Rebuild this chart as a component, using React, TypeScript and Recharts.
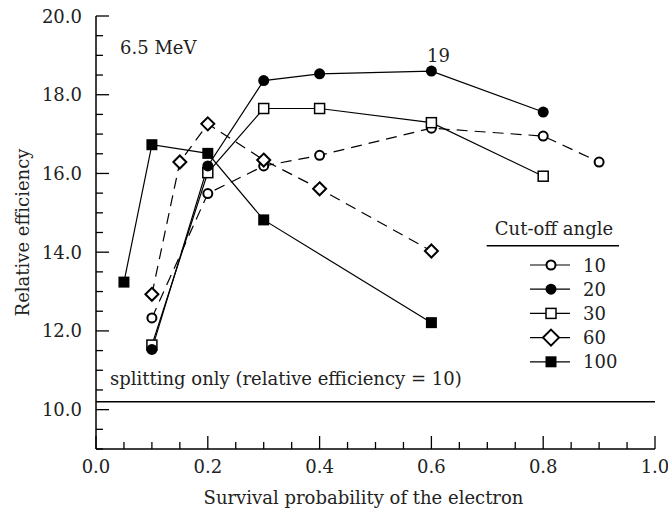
import React from 'react';
import { LineChart, Line, XAxis, YAxis, ReferenceLine, ReferenceDot, Legend, Label } from 'recharts';

const FONT = '"DejaVu Serif", "Liberation Serif", serif';
const FS = 18;
const TXT: React.CSSProperties = { fontFamily: FONT, fontSize: FS };

// Survival probability (x) and relative efficiency (y) per cut-off angle
const x10 = [0.1, 0.2, 0.3, 0.4, 0.6, 0.8, 0.9];
const y10 = [12.33, 15.49, 16.19, 16.46, 17.15, 16.95, 16.29];
const x20 = [0.1, 0.2, 0.3, 0.4, 0.6, 0.8];
const y20 = [11.53, 16.19, 18.36, 18.53, 18.6, 17.56];
const x30 = [0.1, 0.2, 0.3, 0.4, 0.6, 0.8];
const y30 = [11.64, 16.02, 17.65, 17.65, 17.29, 15.93];
const x60 = [0.1, 0.15, 0.2, 0.3, 0.4, 0.6];
const y60 = [12.93, 16.29, 17.26, 16.34, 15.61, 14.03];
const x100 = [0.05, 0.1, 0.2, 0.3, 0.6];
const y100 = [13.24, 16.73, 16.51, 14.82, 12.21];

const legendLabels = ['10', '20', '30', '60', '100'];
const xTicks = [0, 0.05, 0.1, 0.15, 0.2, 0.25, 0.3, 0.35, 0.4, 0.45, 0.5, 0.55, 0.6, 0.65, 0.7, 0.75, 0.8, 0.85, 0.9, 0.95, 1.0];
const yTicks = [9, 9.5, 10, 10.5, 11, 11.5, 12, 12.5, 13, 13.5, 14, 14.5, 15, 15.5, 16, 16.5, 17, 17.5, 18, 18.5, 19, 19.5, 20];
const splitLevel = 10.2;
const energyLabelPos = { x: 0.043, y: 19.19 };
const peakLabelPos = { x: 0.6, y: 18.6 };

const zip = (xs: number[], ys: number[]) => xs.map((x, i) => ({ x, y: ys[i] }));
const d10 = zip(x10, y10);
const d20 = zip(x20, y20);
const d30 = zip(x30, y30);
const d60 = zip(x60, y60);
const d100 = zip(x100, y100);

type Shape = 'circleOpen' | 'circleFilled' | 'squareOpen' | 'diamondOpen' | 'squareFilled';

const Marker = ({ cx, cy, shape, big }: { cx: number; cy: number; shape: Shape; big?: boolean }) => {
  switch (shape) {
    case 'circleOpen':
      return <circle cx={cx} cy={cy} r={4.5} fill="#fff" stroke="#000" strokeWidth={2} />;
    case 'circleFilled':
      return <circle cx={cx} cy={cy} r={5.5} fill="#000" stroke="none" />;
    case 'squareOpen':
      return <rect x={cx - 5} y={cy - 5} width={10} height={10} fill="#fff" stroke="#000" strokeWidth={1.5} />;
    case 'diamondOpen': {
      const h = big ? 8 : 6.5;
      return (
        <polygon
          points={`${cx},${cy - h} ${cx + h},${cy} ${cx},${cy + h} ${cx - h},${cy}`}
          fill="#fff"
          stroke="#000"
          strokeWidth={2}
        />
      );
    }
    case 'squareFilled':
      return <rect x={cx - 5.5} y={cy - 5.5} width={11} height={11} fill="#000" />;
  }
  return null;
};

const dotFor = (shape: Shape) => (p: any) => (
  <Marker key={`${shape}-${p.index}`} cx={p.cx} cy={p.cy} shape={shape} />
);

const isMajorX = (v: number) => Math.abs(v * 5 - Math.round(v * 5)) < 1e-6;
const isMajorY = (v: number) => Math.abs(v / 2 - Math.round(v / 2)) < 1e-6;
const MAJ = 13;
const MIN = 7;
const TW = 1.3;

const BottomTick = (p: any) => {
  const v = p.payload.value;
  const major = isMajorX(v);
  return (
    <g>
      <line x1={p.x} x2={p.x} y1={p.y} y2={p.y - (major ? MAJ : MIN)} stroke="#000" strokeWidth={TW} />
      {major && (
        <text x={p.x} y={p.y + 17} textAnchor="middle" dominantBaseline="central" style={TXT} fill="#222">
          {v.toFixed(1)}
        </text>
      )}
    </g>
  );
};
const TopTick = (p: any) => {
  const major = isMajorX(p.payload.value);
  return <line x1={p.x} x2={p.x} y1={p.y} y2={p.y + (major ? MAJ : MIN)} stroke="#000" strokeWidth={TW} />;
};
const LeftTick = (p: any) => {
  const v = p.payload.value;
  const major = isMajorY(v);
  return (
    <g>
      <line x1={p.x} x2={p.x + (major ? MAJ : MIN)} y1={p.y} y2={p.y} stroke="#000" strokeWidth={TW} />
      {major && (
        <text x={p.x - 14} y={p.y} textAnchor="end" dominantBaseline="central" style={TXT} fill="#222">
          {v.toFixed(1)}
        </text>
      )}
    </g>
  );
};
const RightTick = (p: any) => {
  const major = isMajorY(p.payload.value);
  return <line x1={p.x} x2={p.x - (major ? MAJ : MIN)} y1={p.y} y2={p.y} stroke="#000" strokeWidth={TW} />;
};

const annot = (text: string, dx: number, dy: number, anchor: 'start' | 'middle') => (p: any) => {
  const vb = p.viewBox || { x: 0, y: 0, width: 0, height: 0 };
  const cx = vb.x + vb.width / 2;
  const cy = vb.y + vb.height / 2;
  return (
    <text x={cx + dx} y={cy + dy} textAnchor={anchor} dominantBaseline="central" style={TXT} fill="#222">
      {text}
    </text>
  );
};

const shapes: Shape[] = ['circleOpen', 'circleFilled', 'squareOpen', 'diamondOpen', 'squareFilled'];

const LegendBox = () => (
  <svg width={150} height={175} style={{ display: 'block', overflow: 'visible' }}>
    <text x={74} y={23} textAnchor="middle" dominantBaseline="central" style={TXT} fill="#222">
      Cut-off angle
    </text>
    <line x1={6.7} x2={139} y1={40.7} y2={40.7} stroke="#000" strokeWidth={1.5} />
    {legendLabels.map((lab, i) => {
      const y = 60 + i * 24.2;
      return (
        <g key={lab}>
          <line x1={50} x2={90} y1={y} y2={y} stroke="#000" strokeWidth={1.2} />
          <Marker cx={71} cy={y} shape={shapes[i]} big />
          <text x={103} y={y} dominantBaseline="central" style={TXT} fill="#222">
            {lab}
          </text>
        </g>
      );
    })}
  </svg>
);

export default function App() {
  return (
    <div style={{ position: 'absolute', left: 0, top: 0 }}>
      <LineChart width={668} height={516} margin={{ top: 16, right: 13, bottom: 7, left: 10 }}>
        <XAxis
          xAxisId="b"
          dataKey="x"
          type="number"
          domain={[0, 1]}
          allowDataOverflow
          ticks={xTicks}
          interval={0}
          tickSize={0}
          tickMargin={0}
          tick={BottomTick}
          axisLine={{ stroke: '#000', strokeWidth: 1.5 }}
          height={60}
        >
          <Label
            content={(p: any) => {
              const vb = p.viewBox || { x: 96, y: 449, width: 559, height: 60 };
              return (
                <text x={vb.x + vb.width / 2 - 12} y={vb.y + 48} textAnchor="middle" dominantBaseline="central" style={TXT} fill="#222">
                  Survival probability of the electron
                </text>
              );
            }}
          />
        </XAxis>
        <XAxis
          xAxisId="t"
          orientation="top"
          dataKey="x"
          type="number"
          domain={[0, 1]}
          allowDataOverflow
          ticks={xTicks}
          interval={0}
          tickSize={0}
          tickMargin={0}
          tick={TopTick}
          axisLine={{ stroke: '#000', strokeWidth: 1.5 }}
          height={0}
        />
        <YAxis
          yAxisId="l"
          type="number"
          domain={[9, 20]}
          allowDataOverflow
          ticks={yTicks}
          interval={0}
          tickSize={0}
          tickMargin={0}
          tick={LeftTick}
          axisLine={{ stroke: '#000', strokeWidth: 1.5 }}
          width={86}
        >
          <Label
            content={(p: any) => {
              const vb = p.viewBox || { x: 10, y: 16, width: 86, height: 433 };
              const cx = vb.x + 12;
              const cy = vb.y + vb.height / 2;
              return (
                <text x={cx} y={cy} transform={`rotate(-90 ${cx} ${cy})`} textAnchor="middle" dominantBaseline="central" style={TXT} fill="#222">
                  Relative efficiency
                </text>
              );
            }}
          />
        </YAxis>
        <YAxis
          yAxisId="r"
          orientation="right"
          type="number"
          domain={[9, 20]}
          allowDataOverflow
          ticks={yTicks}
          interval={0}
          tickSize={0}
          tickMargin={0}
          tick={RightTick}
          axisLine={{ stroke: '#000', strokeWidth: 1.5 }}
          width={0}
        />
        <ReferenceLine xAxisId="b" yAxisId="l" y={splitLevel} stroke="#000" strokeWidth={1.3} />
        <ReferenceDot
          xAxisId="b"
          yAxisId="l"
          x={0.025}
          y={splitLevel}
          r={0}
          fill="none"
          stroke="none"
          label={{ content: annot('splitting only (relative efficiency = 10)', 0, -23, 'start') }}
        />
        <ReferenceDot
          xAxisId="b"
          yAxisId="l"
          x={energyLabelPos.x}
          y={energyLabelPos.y}
          r={0}
          fill="none"
          stroke="none"
          label={{ content: annot('6.5 MeV', 0, 0, 'start') }}
        />
        <ReferenceDot
          xAxisId="b"
          yAxisId="l"
          x={peakLabelPos.x}
          y={peakLabelPos.y}
          r={0}
          fill="none"
          stroke="none"
          label={{ content: annot('19', 7, -16, 'middle') }}
        />
        <Line xAxisId="b" yAxisId="l" data={d10} dataKey="y" name="10" stroke="#000" strokeWidth={1.2} strokeDasharray="11 7" dot={dotFor('circleOpen')} activeDot={false} isAnimationActive={false} />
        <Line xAxisId="b" yAxisId="l" data={d60} dataKey="y" name="60" stroke="#000" strokeWidth={1.2} strokeDasharray="11 7" dot={dotFor('diamondOpen')} activeDot={false} isAnimationActive={false} />
        <Line xAxisId="b" yAxisId="l" data={d100} dataKey="y" name="100" stroke="#000" strokeWidth={1.2} dot={dotFor('squareFilled')} activeDot={false} isAnimationActive={false} />
        <Line xAxisId="b" yAxisId="l" data={d30} dataKey="y" name="30" stroke="#000" strokeWidth={1.2} dot={dotFor('squareOpen')} activeDot={false} isAnimationActive={false} />
        <Line xAxisId="b" yAxisId="l" data={d20} dataKey="y" name="20" stroke="#000" strokeWidth={1.2} dot={dotFor('circleFilled')} activeDot={false} isAnimationActive={false} />
        <Legend
          layout="vertical"
          align="center"
          verticalAlign="middle"
          content={() => <LegendBox />}
          wrapperStyle={{ position: 'absolute', left: 480, top: 205, width: 150, height: 175 }}
        />
      </LineChart>
    </div>
  );
}
